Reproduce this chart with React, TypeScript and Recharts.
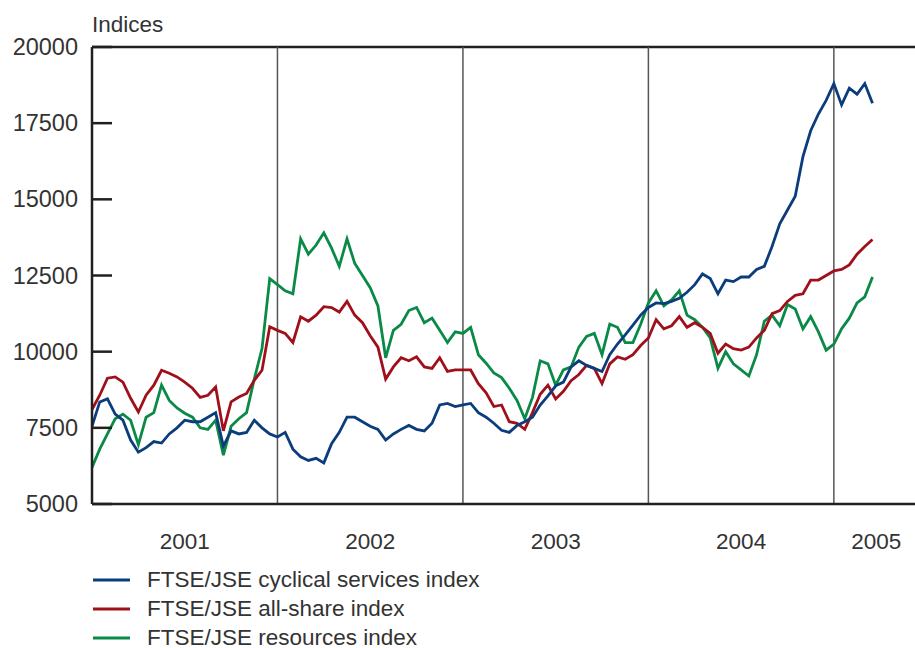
import { LineChart, Line, XAxis, YAxis, ReferenceLine } from 'recharts';

// half-monthly readings, Jan 2001 to Mar 2005 (t = half-months since start of 2001)
const cyclicalServices = [
  7550, 8350, 8450, 7950, 7750, 7100, 6700, 6850, 7050, 7000, 7300, 7500,
  7750, 7700, 7700, 7850, 8000, 6900, 7400, 7300, 7350, 7750, 7500, 7300,
  7200, 7350, 6800, 6550, 6430, 6500, 6350, 6980, 7350, 7850, 7850, 7700,
  7550, 7450, 7100, 7300, 7450, 7580, 7450, 7400, 7650, 8250, 8300, 8200,
  8250, 8300, 8000, 7850, 7650, 7420, 7350, 7580, 7700, 7850, 8250, 8550,
  8880, 9000, 9500, 9700, 9550, 9450, 9350, 9900, 10250, 10550, 10870, 11200,
  11450, 11600, 11580, 11650, 11750, 11950, 12200, 12550, 12400, 11900, 12350, 12300,
  12450, 12450, 12700, 12800, 13450, 14200, 14650, 15100, 16400, 17250, 17800, 18250,
  18800, 18100, 18650, 18450, 18800, 18150,
];

const allShare = [
  8100, 8570, 9130, 9170, 9000, 8470, 8020, 8570, 8900, 9390, 9290, 9170,
  9000, 8800, 8500, 8570, 8840, 7400, 8350, 8510, 8630, 9060, 9390, 10820,
  10700, 10600, 10300, 11145, 11000, 11200, 11475, 11450, 11300, 11650, 11200, 10950,
  10520, 10150, 9100, 9500, 9800, 9700, 9830, 9500, 9450, 9800, 9350, 9400,
  9400, 9400, 8950, 8650, 8200, 8250, 7700, 7650, 7450, 8000, 8600, 8900,
  8450, 8700, 9050, 9250, 9550, 9450, 8950, 9600, 9830, 9750, 9900, 10200,
  10450, 11050, 10750, 10850, 11150, 10800, 10950, 10800, 10600, 9950, 10250, 10100,
  10050, 10150, 10450, 10700, 11250, 11350, 11650, 11850, 11900, 12350, 12350, 12500,
  12650, 12700, 12850, 13200, 13450, 13680,
];

const resources = [
  6200, 6800, 7300, 7800, 7950, 7750, 6950, 7850, 8000, 8900, 8400, 8150,
  7980, 7850, 7500, 7450, 7750, 6600, 7550, 7800, 8000, 9100, 10100, 12400,
  12200, 12000, 11900, 13700, 13200, 13500, 13900, 13400, 12800, 13700, 12900, 12500,
  12100, 11500, 9800, 10700, 10900, 11350, 11450, 10950, 11100, 10700, 10300, 10650,
  10600, 10800, 9900, 9620, 9300, 9150, 8800, 8400, 7800, 8500, 9700, 9600,
  8900, 9400, 9500, 10150, 10500, 10600, 9900, 10900, 10800, 10300, 10300, 10900,
  11600, 12000, 11500, 11700, 12000, 11200, 11050, 10800, 10450, 9450, 10000, 9600,
  9400, 9200, 9900, 11000, 11200, 10850, 11550, 11400, 10750, 11150, 10650, 10050,
  10250, 10750, 11100, 11600, 11800, 12450,
];

const yearLabels = ['2001', '2002', '2003', '2004', '2005'];
const yearCentres = [12, 36, 60, 84, 101.5];
const yearStarts = [24, 48, 72, 96];
const yTicks = [5000, 7500, 10000, 12500, 15000, 17500, 20000];

const SERIES = [
  { key: 'resources', name: 'FTSE/JSE resources index', color: '#0a8a47' },
  { key: 'allShare', name: 'FTSE/JSE all-share index', color: '#a0101b' },
  { key: 'cyclical', name: 'FTSE/JSE cyclical services index', color: '#0b3d7c' },
];
const LEGEND = [SERIES[2], SERIES[1], SERIES[0]];

const data = cyclicalServices.map((v, i) => ({
  t: i,
  cyclical: v,
  allShare: allShare[i],
  resources: resources[i],
}));

const FONT = '"Liberation Sans", Arial, sans-serif';
const INK = '#231f20';
const TEXT = '#333';
const PLOT_LEFT = 92;
const TICK = 20;

// label outside, short tick inside the plot
function YTick(props: any) {
  const { y, payload } = props;
  return (
    <g>
      <path d={`M${PLOT_LEFT},${y}h${TICK}`} stroke={INK} strokeWidth={2.5} fill="none" />
      <text x={78} y={y} textAnchor="end" dominantBaseline="central" fontSize={23.5} fill={TEXT} fontFamily={FONT}>
        {payload.value}
      </text>
    </g>
  );
}

function XTick(props: any) {
  const { x, payload } = props;
  const idx = yearCentres.indexOf(payload.value);
  return (
    <text x={x} y={541} textAnchor="middle" dominantBaseline="central" fontSize={22.5} fill={TEXT} fontFamily={FONT}>
      {yearLabels[idx]}
    </text>
  );
}

export default function App() {
  return (
    <div style={{ position: 'absolute', left: 0, top: 0, width: 915, height: 648, background: '#fff' }}>
      <div style={{ position: 'absolute', left: 92, top: 12, fontSize: 22.5, color: TEXT, fontFamily: FONT }}>Indices</div>
      <LineChart width={915} height={648} data={data} margin={{ top: 47, right: 0, left: 12, bottom: 104 }}>
        <XAxis
          dataKey="t"
          type="number"
          domain={[0, 106.5]}
          ticks={yearCentres}
          tick={<XTick />}
          tickLine={false}
          axisLine={{ stroke: INK, strokeWidth: 2.5 }}
          allowDataOverflow
          height={40}
        />
        <YAxis
          type="number"
          domain={[5000, 20000]}
          ticks={yTicks}
          tick={<YTick />}
          tickLine={false}
          axisLine={{ stroke: INK, strokeWidth: 2.5 }}
          width={80}
        />
        <ReferenceLine y={20000} stroke={INK} strokeWidth={2.5} />
        {yearStarts.map((s) => (
          <ReferenceLine key={s} x={s} stroke="#555" strokeWidth={1.5} />
        ))}
        {SERIES.map((s) => (
          <Line
            key={s.key}
            dataKey={s.key}
            name={s.name}
            stroke={s.color}
            strokeWidth={2.8}
            dot={false}
            type="linear"
            isAnimationActive={false}
          />
        ))}
      </LineChart>
      <div style={{ position: 'absolute', left: 93, top: 565, fontFamily: FONT, fontSize: 22.5, color: TEXT }}>
        {LEGEND.map((s) => (
          <div key={s.key} style={{ display: 'flex', alignItems: 'center', height: 29 }}>
            <svg width={37} height={4} style={{ marginRight: 17 }}>
              <line x1={0} x2={37} y1={2} y2={2} stroke={s.color} strokeWidth={3} />
            </svg>
            <span>{s.name}</span>
          </div>
        ))}
      </div>
    </div>
  );
}
